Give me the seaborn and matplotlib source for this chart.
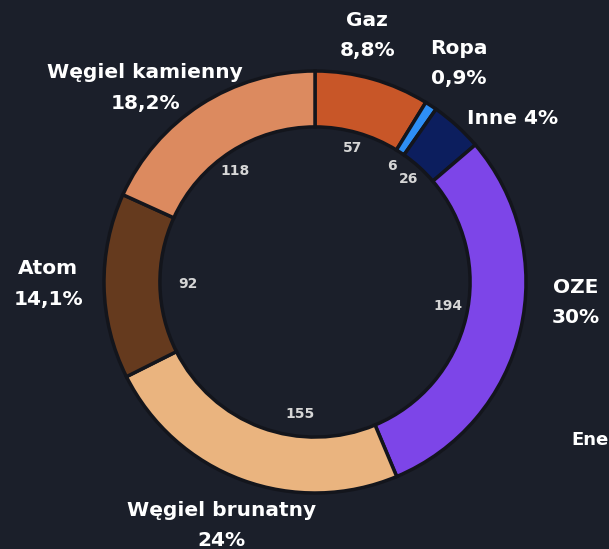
import numpy as np
import matplotlib
matplotlib.use("Agg")
import matplotlib.pyplot as plt
import seaborn as sns

# energy mix (TWh) - order clockwise from 12 o'clock
sources = ["Gaz", "Ropa", "Inne", "OZE", "Węgiel brunatny", "Atom", "Węgiel kamienny"]
values = [57, 6, 26, 194, 155, 92, 118]
pct_labels = ["8,8%", "0,9%", "4%", "30%", "24%", "14,1%", "18,2%"]
colors = ["#c85628", "#2e8ff5", "#0c1e5e", "#7d45e8", "#eab47f", "#653a1e", "#dc8a5f"]

bg = "#1b1f2a"
sns.set_theme(style="dark", rc={"figure.facecolor": bg, "axes.facecolor": bg})
plt.rcParams["font.family"] = ["DejaVu Sans"]

fig = plt.figure(figsize=(6.09, 5.49), dpi=100)
ax = fig.add_axes([0, 0, 1, 1])
ax.set_facecolor(bg)

total = sum(values)
wedges, _, autotexts = ax.pie(
    values,
    colors=sns.color_palette(colors),
    startangle=90,
    counterclock=False,
    radius=1.0,
    autopct=lambda p: f"{round(p * total / 100)}",
    pctdistance=0.65,
    wedgeprops=dict(width=0.265, edgecolor="#13151c", linewidth=2.5),
    textprops=dict(color="#d6d6d6", fontsize=10, fontweight="bold"),
)

# value labels: small angle (deg) / radius tweaks to match the layout
val_turn = [0, 0, 0, 3, 14, 0, 3]
val_dist = [0.66, 0.66, 0.66, 0.64, 0.63, 0.60, 0.65]
for w, t, dt, r in zip(wedges, autotexts, val_turn, val_dist):
    ang = np.deg2rad((w.theta1 + w.theta2) / 2 + dt)
    t.set_position((r * np.cos(ang), r * np.sin(ang)))

# outer labels: at the wedge mid-angle, nudged (pixels) to match the layout
nudges = [(-19, -5), (0, 0), (22, -30), (6, 40), (-3, 2), (-5, 3), (-28, -26)]
px = 211.0  # pixels per unit radius
for w, name, pct, (nx, ny) in zip(wedges, sources, pct_labels, nudges):
    ang = np.deg2rad((w.theta1 + w.theta2) / 2)
    x = 1.24 * np.cos(ang) + nx / px
    y = 1.24 * np.sin(ang) + ny / px
    txt = f"{name} {pct}" if name == "Inne" else f"{name}\n{pct}"
    ax.text(x, y, txt, ha="center", va="center", color="white",
            fontsize=14.5, fontweight="bold", linespacing=1.75)

# label of the neighbouring chart, cut by the frame in the source
ax.text(1.215, -0.75, "Ene", ha="left", va="center", color="white",
        fontsize=13, fontweight="bold")

ax.set_xlim(-315 / px, (609 - 315) / px)
ax.set_ylim(-(549 - 282) / px, 282 / px)
ax.set_aspect("equal")
ax.axis("off")

fig.savefig("out.png", dpi=100, facecolor=bg)
